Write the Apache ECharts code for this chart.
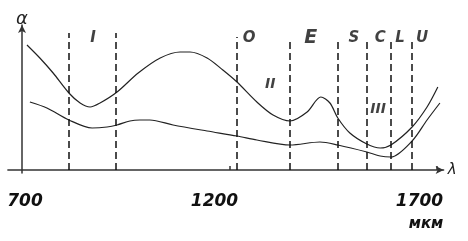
<!DOCTYPE html>
<html>
<head>
<meta charset="utf-8">
<script src="https://cdn.jsdelivr.net/npm/echarts@6/dist/echarts.min.js"></script>
<style>html,body{margin:0;padding:0;background:#fff}#c{width:468px;height:241px}</style>
</head>
<body>
<div id="c"></div>
<script>
// Upper attenuation curve (II)
const upperWavelengths = [712, 743, 775, 813, 840, 864, 888, 929, 980, 1033, 1081, 1105, 1146, 1184, 1218, 1266, 1305, 1346, 1387, 1420, 1442, 1461, 1490, 1531, 1563, 1589, 1640, 1676, 1702];
const upperValues      = [12.5, 11.2, 9.7, 7.7, 6.7, 6.3, 6.7, 7.8, 9.7, 11.2, 11.8, 11.8, 11.2, 10.0, 8.8, 6.8, 5.5, 4.9, 5.8, 7.3, 6.7, 5.2, 3.7, 2.6, 2.2, 2.5, 4.3, 6.3, 8.3];
// Lower attenuation curve (III)
const lowerWavelengths = [719, 760, 813, 869, 905, 929, 960, 984, 1008, 1064, 1146, 1218, 1266, 1346, 1418, 1461, 1531, 1563, 1589, 1640, 1676, 1707];
const lowerValues      = [6.8, 6.2, 5.0, 4.2, 4.3, 4.5, 4.9, 5.0, 5.0, 4.5, 3.9, 3.4, 3.0, 2.5, 2.8, 2.5, 1.8, 1.4, 1.3, 2.9, 5.0, 6.7];
// Band boundaries (dashed lines) and their heights
const bandBounds = [813, 927, 1218, 1346, 1461, 1531, 1589, 1640];
const bandTops   = [13.7, 13.7, 13.3, 13.2, 13.2, 13.2, 13.2, 13.2];
// Band labels
const bandNames  = ['I', 'O', 'E', 'S', 'C', 'L', 'U'];
const bandLabelX = [871, 1247, 1396, 1500, 1563, 1611, 1664];
const bandLabelY = 13.2;
// Curve labels
const curveNames  = ['II', 'III'];
const curveLabelX = [1298, 1558];
const curveLabelY = [8.6, 6.1];
// Axis tick labels
const tickLabels = [700, 1200, 1700];
const tickMarks  = [1200, 1700];
const unitLabel = 'мкм';
const xName = 'λ';
const yName = 'α';

const FONT = 'DejaVu Sans';
const chart = echarts.init(document.getElementById('c'));
chart.setOption({
  animation: false,
  grid: { left: 7.89, right: 24.36, top: 25, bottom: 68 },
  xAxis: {
    type: 'value', min: 666, max: 1716,
    name: xName, nameLocation: 'end', nameGap: 4,
    nameTextStyle: { fontFamily: FONT, fontSize: 15, color: '#222', fontStyle: 'italic', verticalAlign: 'middle', padding: [0, 0, 6, 0] },
    axisLine: { onZero: true, symbol: ['none', 'arrow'], symbolSize: [6, 8], lineStyle: { color: '#333', width: 1.5 } },
    axisTick: { show: true, inside: true, length: 4, customValues: tickMarks, lineStyle: { color: '#333', width: 1.5 } },
    splitLine: { show: false },
    axisLabel: {
      customValues: tickLabels, margin: 20,
      formatter: function (v) {
        if (v === 700) return '{a|700}';
        if (v === 1200) return '{b|1200}';
        return '{c|1700}\n{d|' + unitLabel + '}';
      },
      rich: {
        a: { fontFamily: FONT, fontSize: 17, fontWeight: 'bold', fontStyle: 'italic', color: '#111', padding: [0, 0, 0, 6] },
        b: { fontFamily: FONT, fontSize: 17, fontWeight: 'bold', fontStyle: 'italic', color: '#111', padding: [0, 30, 0, 0] },
        c: { fontFamily: FONT, fontSize: 17, fontWeight: 'bold', fontStyle: 'italic', color: '#111', padding: [0, 35, 0, 0] },
        d: { fontFamily: FONT, fontSize: 15, fontWeight: 'bold', fontStyle: 'italic', color: '#111', padding: [7, 22, 0, 0] }
      }
    }
  },
  yAxis: {
    type: 'value', min: -0.3, max: 14.5, offset: -14.11,
    name: yName, nameLocation: 'end', nameGap: -3,
    nameTextStyle: { fontFamily: FONT, fontSize: 18, color: '#222', fontStyle: 'italic', align: 'center' },
    axisLine: { show: true, onZero: false, symbol: ['none', 'arrow'], symbolSize: [6, 8], lineStyle: { color: '#333', width: 1.5 } },
    axisTick: { show: false }, axisLabel: { show: false }, splitLine: { show: false }
  },
  series: [
    {
      type: 'line', smooth: 0.3, symbol: 'none',
      data: upperWavelengths.map((x, i) => [x, upperValues[i]]),
      lineStyle: { color: '#222', width: 1.2 }
    },
    {
      type: 'line', smooth: 0.3, symbol: 'none',
      data: lowerWavelengths.map((x, i) => [x, lowerValues[i]]),
      lineStyle: { color: '#222', width: 1.2 }
    },
    {
      type: 'scatter', symbolSize: 1, itemStyle: { color: 'rgba(0,0,0,0)' },
      data: bandLabelX.map((x, i) => ({
        value: [x, bandLabelY], name: bandNames[i],
        label: { fontSize: bandNames[i] === 'E' ? 19 : 15 }
      })).concat(curveLabelX.map((x, i) => ({ value: [x, curveLabelY[i]], name: curveNames[i], label: { fontSize: 14 } }))),
      label: { show: true, position: 'inside', formatter: '{b}', fontFamily: FONT, fontWeight: 'bold', fontStyle: 'italic', color: '#111' },
      markLine: {
        silent: true, symbol: ['none', 'none'], label: { show: false },
        lineStyle: { color: '#111', width: 1.5, type: [7, 4] },
        data: bandBounds.map((x, i) => [{ coord: [x, 0] }, { coord: [x, bandTops[i]] }])
      }
    }
  ]
});
</script>
</body>
</html>
